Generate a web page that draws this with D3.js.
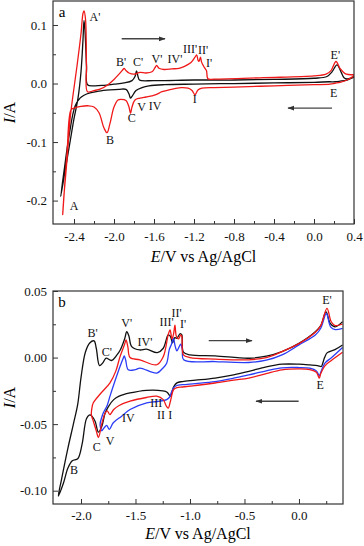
<!DOCTYPE html>
<html>
<head>
<meta charset="utf-8">
<script src="https://cdn.jsdelivr.net/npm/d3@7"></script>
<style>
  body { margin: 0; background: #fff; }
  svg { display: block; font-family: "Liberation Serif", "DejaVu Serif", serif; }
  .tick line { stroke: #333; }
  .tick text { font-family: "Liberation Serif", serif; font-size: 13px; fill: #111; }
  .peak { font-size: 12px; fill: #111; }
</style>
</head>
<body>
<script>
// panel a: [E (V), I (A)], each loop starts at +0.4 V, scans negative, then back
const aBlack = [
  [0.40, 0.011], [0.33, 0.006], [0.26, 0.004], [0.21, 0.003], [0.15, 0.003], [0.0, 0.002],
  [-0.4, 0.001], [-0.8, 0.0], [-1.2, -0.001], [-1.5, -0.002], [-1.65, -0.004], [-1.72, -0.007],
  [-1.78, -0.012], [-1.82, -0.022], [-1.835, -0.025], [-1.85, -0.018], [-1.88, -0.010],
  [-1.95, -0.010], [-2.04, -0.011], [-2.15, -0.013], [-2.24, -0.016], [-2.30, -0.020],
  [-2.34, -0.025], [-2.39, -0.039], [-2.45, -0.09], [-2.50, -0.15], [-2.533, -0.193],
  [-2.49, -0.15], [-2.44, -0.10], [-2.40, -0.06], [-2.36, -0.025], [-2.33, 0.02], [-2.31, 0.075],
  [-2.30, 0.108], [-2.29, 0.09], [-2.275, 0.03], [-2.265, -0.002], [-2.20, -0.004], [-2.10, -0.003],
  [-2.0, -0.001], [-1.90, 0.001], [-1.82, 0.005], [-1.79, 0.012], [-1.775, 0.0217], [-1.76, 0.012],
  [-1.745, 0.006], [-1.6, 0.005], [-1.2, 0.006], [-0.8, 0.006], [-0.4, 0.007], [0.0, 0.009],
  [0.13, 0.012], [0.18, 0.02], [0.23, 0.032], [0.27, 0.02], [0.30, 0.01], [0.33, 0.008], [0.40, 0.011]
];
const aRed = [
  [0.40, 0.013], [0.33, 0.006], [0.26, 0.002], [0.21, 0.0005], [0.16, -0.001], [0.0, -0.002],
  [-0.4, -0.004], [-0.8, -0.006], [-1.0, -0.007], [-1.12, -0.008], [-1.16, -0.011], [-1.19, -0.019],
  [-1.22, -0.012], [-1.26, -0.008], [-1.33, -0.007], [-1.45, -0.011], [-1.52, -0.014], [-1.58, -0.019],
  [-1.62, -0.021], [-1.68, -0.023], [-1.74, -0.025], [-1.79, -0.028], [-1.82, -0.040], [-1.835, -0.051],
  [-1.85, -0.040], [-1.88, -0.029], [-1.93, -0.027], [-1.96, -0.028], [-2.0, -0.040], [-2.04, -0.068],
  [-2.07, -0.084], [-2.10, -0.076], [-2.15, -0.050], [-2.20, -0.040], [-2.26, -0.038], [-2.33, -0.039],
  [-2.40, -0.042], [-2.43, -0.045], [-2.47, -0.12], [-2.513, -0.224],
  [-2.50, -0.19], [-2.47, -0.13], [-2.44, -0.062], [-2.41, -0.02], [-2.37, 0.03], [-2.33, 0.085],
  [-2.31, 0.12], [-2.30, 0.124], [-2.285, 0.11], [-2.275, 0.03], [-2.265, -0.014], [-2.20, -0.012],
  [-2.14, -0.0096], [-2.06, -0.002], [-2.0, 0.007], [-1.95, 0.016], [-1.91, 0.024], [-1.90, 0.026],
  [-1.88, 0.022], [-1.85, 0.018], [-1.80, 0.016], [-1.74, 0.019], [-1.68, 0.018], [-1.62, 0.02],
  [-1.59, 0.027], [-1.573, 0.031], [-1.55, 0.026], [-1.50, 0.024], [-1.42, 0.025], [-1.35, 0.026],
  [-1.30, 0.029], [-1.23, 0.036], [-1.19, 0.045], [-1.173, 0.049], [-1.16, 0.040], [-1.15, 0.038],
  [-1.135, 0.045], [-1.125, 0.037], [-1.105, 0.030], [-1.09, 0.026], [-1.075, 0.022], [-1.06, 0.008],
  [-1.0, 0.0075], [-0.5, 0.010], [0.0, 0.013], [0.12, 0.016], [0.17, 0.022], [0.22, 0.0376],
  [0.26, 0.026], [0.31, 0.017], [0.40, 0.015]
];

// panel b
const bBlack = [
  [0.40, 0.0095], [0.33, 0.006], [0.26, 0.0037], [0.235, 0.0], [0.215, -0.005], [0.205, -0.0067],
  [0.17, -0.006], [0.10, -0.0055], [0.0, -0.005], [-0.156, -0.005], [-0.30, -0.007], [-0.46, -0.0104],
  [-0.60, -0.013], [-0.77, -0.0154], [-0.95, -0.017], [-1.07, -0.018], [-1.12, -0.019], [-1.15, -0.022],
  [-1.18, -0.029], [-1.21, -0.026], [-1.25, -0.025], [-1.40, -0.0246], [-1.55, -0.0266], [-1.65, -0.029],
  [-1.70, -0.0316], [-1.75, -0.037], [-1.78, -0.042], [-1.81, -0.052], [-1.84, -0.056], [-1.87, -0.048],
  [-1.90, -0.044], [-1.92, -0.043], [-1.95, -0.046], [-1.99, -0.065], [-2.03, -0.076], [-2.08, -0.0776],
  [-2.12, -0.083], [-2.16, -0.094], [-2.208, -0.104],
  [-2.18, -0.092], [-2.12, -0.068], [-2.07, -0.05], [-2.03, -0.035], [-2.0, -0.015], [-1.96, 0.004],
  [-1.92, 0.011], [-1.88, 0.0125], [-1.86, 0.007], [-1.83, -0.006], [-1.80, -0.004], [-1.77, -0.0005],
  [-1.72, -0.0022], [-1.67, 0.002], [-1.64, 0.0057], [-1.60, 0.014], [-1.58, 0.0194], [-1.56, 0.016],
  [-1.535, 0.0082], [-1.46, 0.0057], [-1.40, 0.0063], [-1.30, 0.0037], [-1.245, 0.007], [-1.20, 0.017],
  [-1.18, 0.016], [-1.16, 0.011], [-1.14, 0.015], [-1.12, 0.0145], [-1.09, 0.018], [-1.075, 0.017],
  [-1.06, 0.004], [-1.0, 0.002], [-0.77, 0.0013], [-0.46, -0.0005], [-0.30, 0.001], [-0.156, 0.0045],
  [0.0, 0.0107], [0.15, 0.0194], [0.20, 0.024], [0.248, 0.0343], [0.287, 0.0257], [0.333, 0.0231], [0.40, 0.027]
];
const bRed = [
  [0.40, 0.004], [0.30, -0.002], [0.24, -0.006], [0.20, -0.012], [0.186, -0.0154], [0.16, -0.011],
  [0.10, -0.009], [0.0, -0.0085], [-0.156, -0.0092], [-0.30, -0.012], [-0.46, -0.0154], [-0.60, -0.017],
  [-0.77, -0.0191], [-0.95, -0.021], [-1.07, -0.0221], [-1.12, -0.0225], [-1.15, -0.024], [-1.18, -0.033],
  [-1.20, -0.038], [-1.22, -0.036], [-1.245, -0.0316], [-1.305, -0.029], [-1.40, -0.030], [-1.55, -0.0328],
  [-1.65, -0.036], [-1.70, -0.039], [-1.735, -0.0428], [-1.76, -0.040], [-1.78, -0.042], [-1.81, -0.050],
  [-1.84, -0.060], [-1.86, -0.055], [-1.89, -0.047], [-1.905, -0.043],
  [-1.90, -0.038], [-1.887, -0.034], [-1.82, -0.027], [-1.734, -0.019], [-1.68, -0.01], [-1.642, 0.0007],
  [-1.60, 0.010], [-1.587, 0.0132], [-1.57, 0.008], [-1.55, 0.0], [-1.46, -0.0017], [-1.305, -0.0054],
  [-1.245, 0.0007], [-1.20, 0.017], [-1.183, 0.0207], [-1.165, 0.014], [-1.15, 0.018], [-1.138, 0.0244],
  [-1.125, 0.016], [-1.105, 0.014], [-1.085, 0.017], [-1.075, 0.016], [-1.06, 0.002], [-1.0, 0.0],
  [-0.77, -0.0012], [-0.46, -0.0017], [-0.30, 0.0], [-0.156, 0.0045], [0.0, 0.0105], [0.15, 0.019],
  [0.20, 0.024], [0.257, 0.0369], [0.296, 0.0269], [0.333, 0.024], [0.40, 0.0252]
];
const bBlue = [
  [0.40, 0.0075], [0.30, 0.0], [0.24, -0.004], [0.20, -0.011], [0.188, -0.0137], [0.16, -0.010],
  [0.10, -0.008], [0.0, -0.0075], [-0.156, -0.0077], [-0.30, -0.010], [-0.46, -0.013], [-0.60, -0.0155],
  [-0.77, -0.018], [-0.95, -0.0195], [-1.07, -0.0204], [-1.12, -0.021], [-1.153, -0.0229], [-1.19, -0.030],
  [-1.214, -0.0316], [-1.30, -0.033], [-1.397, -0.034], [-1.55, -0.039], [-1.627, -0.044], [-1.704, -0.049],
  [-1.74, -0.054], [-1.764, -0.051], [-1.79, -0.053], [-1.81, -0.055], [-1.825, -0.05],
  [-1.81, -0.045], [-1.795, -0.0415], [-1.76, -0.036], [-1.734, -0.029], [-1.69, -0.018], [-1.642, -0.0067],
  [-1.61, 0.0], [-1.603, 0.0013], [-1.59, -0.002], [-1.566, -0.0092], [-1.50, -0.009], [-1.459, -0.0079],
  [-1.305, -0.0117], [-1.25, -0.008], [-1.214, -0.0042], [-1.19, 0.006], [-1.17, 0.010], [-1.153, 0.0145],
  [-1.135, 0.0082], [-1.12, 0.005], [-1.10, 0.008], [-1.085, 0.010], [-1.07, 0.006], [-1.058, -0.0017],
  [-0.77, -0.003], [-0.46, -0.0037], [-0.30, -0.002], [-0.156, 0.002], [0.0, 0.0095], [0.15, 0.0169],
  [0.20, 0.022], [0.251, 0.0331], [0.29, 0.0231], [0.333, 0.021], [0.40, 0.0219]
];

// ticks
const aXTicks = [-2.4, -2.0, -1.6, -1.2, -0.8, -0.4, 0.0, 0.4];
const aXLabels = ["-2.4", "-2.0", "-1.6", "-1.2", "-0.8", "-0.4", "0.0", "0.4"];
const aXMinor = [-2.2, -1.8, -1.4, -1.0, -0.6, -0.2, 0.2];
const aYTicks = [-0.2, -0.1, 0.0, 0.1];
const aYLabels = ["-0.2", "-0.1", "0.0", "0.1"];
const aYMinor = [-0.15, -0.05, 0.05];
const bXTicks = [-2.0, -1.5, -1.0, -0.5, 0.0];
const bXLabels = ["-2.0", "-1.5", "-1.0", "-0.5", "0.0"];
const bXMinor = [-1.75, -1.25, -0.75, -0.25, 0.25];
const bYTicks = [-0.10, -0.05, 0.00, 0.05];
const bYLabels = ["-0.10", "-0.05", "0.00", "0.05"];
const bYMinor = [-0.075, -0.025, 0.025];

// peak labels [text, E, I]
const aPeaks = [
  ["A'", -2.19, 0.1145], ["B'", -1.93, 0.037], ["C'", -1.76, 0.037], ["V'", -1.57, 0.0417],
  ["IV'", -1.39, 0.0417], ["III'", -1.24, 0.0595], ["II'", -1.11, 0.0565], ["I'", -1.05, 0.0345],
  ["E'", 0.213, 0.049], ["E", 0.197, -0.0154], ["I", -1.193, -0.0267], ["IV", -1.59, -0.0381],
  ["V", -1.723, -0.0403], ["C", -1.823, -0.0591], ["B", -2.04, -0.0962], ["A", -2.40, -0.210]
];
const bPeaks = [
  ["B'", -1.893, 0.0187], ["C'", -1.764, 0.0045], ["V'", -1.581, 0.0257], ["IV'", -1.413, 0.0119],
  ["III'", -1.214, 0.0269], ["II'", -1.122, 0.0331], ["I'", -1.064, 0.0255], ["E'", 0.257, 0.0436],
  ["E", 0.195, -0.0204], ["C", -1.856, -0.0669], ["V", -1.734, -0.0627], ["IV", -1.566, -0.0452],
  ["B", -2.064, -0.0846], ["III", -1.31, -0.0345], ["II", -1.265, -0.0435], ["I", -1.18, -0.0435]
];
// scan direction arrows [E from, E to, I]
const aArrows = [[-1.923, -1.49, 0.0764], [0.18, -0.26, -0.042]];
const bArrows = [[-0.828, -0.431, 0.0127], [-0.003, -0.394, -0.0328]];

const W = 364, H = 546;
const svg = d3.select("body").append("svg").attr("width", W).attr("height", H);

svg.append("defs").append("marker")
  .attr("id", "head")
  .attr("viewBox", "0 0 10 10")
  .attr("refX", 9).attr("refY", 5)
  .attr("markerWidth", 5).attr("markerHeight", 5)
  .attr("orient", "auto")
  .append("path").attr("d", "M0,1.5L10,5L0,8.5z").attr("fill", "#333");

function panel(o) {
  const x = d3.scaleLinear().domain(o.xDomain).range([o.left, o.right]);
  const y = d3.scaleLinear().domain(o.yDomain).range([o.bottom, o.top]);
  const g = svg.append("g");

  const line = d3.line()
    .x(d => x(d[0]))
    .y(d => y(d[1]))
    .curve(d3.curveCatmullRom.alpha(0.5));

  o.series.forEach(s => {
    g.append("path")
      .attr("d", line(s.data))
      .attr("fill", "none")
      .attr("stroke", s.color)
      .attr("stroke-width", 1.3)
      .attr("stroke-linejoin", "round");
  });

  const xAxis = g.append("g")
    .attr("transform", "translate(0," + o.bottom + ")")
    .call(d3.axisBottom(x).tickValues(o.xTicks).tickSize(-5).tickPadding(o.xPad)
      .tickFormat((d, i) => o.xLabels[i]));
  const xMinor = g.append("g")
    .attr("transform", "translate(0," + o.bottom + ")")
    .call(d3.axisBottom(x).tickValues(o.xMinor).tickSize(-3).tickFormat(""));
  const yAxis = g.append("g")
    .attr("transform", "translate(" + o.left + ",0)")
    .call(d3.axisLeft(y).tickValues(o.yTicks).tickSize(-5).tickPadding(6)
      .tickFormat((d, i) => o.yLabels[i]));
  const yMinor = g.append("g")
    .attr("transform", "translate(" + o.left + ",0)")
    .call(d3.axisLeft(y).tickValues(o.yMinor).tickSize(-3).tickFormat(""));
  [xAxis, xMinor, yAxis, yMinor].forEach(a => {
    a.select(".domain").remove();
    a.attr("font-family", null).attr("font-size", null);
  });

  g.append("rect")
    .attr("x", o.left).attr("y", o.top)
    .attr("width", o.right - o.left).attr("height", o.bottom - o.top)
    .attr("fill", "none").attr("stroke", "#333").attr("stroke-width", 1.2);

  g.selectAll(".peak")
    .data(o.peaks)
    .enter().append("text")
    .attr("class", "peak")
    .attr("x", d => x(d[1]))
    .attr("y", d => y(d[2]))
    .attr("text-anchor", "middle")
    .attr("dominant-baseline", "central")
    .text(d => d[0]);

  g.append("text")
    .attr("x", o.left + 9).attr("y", o.top + 11)
    .attr("text-anchor", "middle")
    .attr("dominant-baseline", "central")
    .style("font-size", "15px")
    .text(o.name);

  g.selectAll(".arrow")
    .data(o.arrows)
    .enter().append("line")
    .attr("class", "arrow")
    .attr("x1", d => x(d[0])).attr("x2", d => x(d[1]))
    .attr("y1", d => y(d[2])).attr("y2", d => y(d[2]))
    .attr("stroke", "#444").attr("stroke-width", 1.4)
    .attr("marker-end", "url(#head)");

  const xt = g.append("text")
    .attr("x", (o.left + o.right) / 2).attr("y", o.bottom + o.titleGap)
    .attr("text-anchor", "middle")
    .style("font-size", "16px");
  xt.append("tspan").style("font-style", "italic").text("E");
  xt.append("tspan").text("/V vs Ag/AgCl");

  const yt = g.append("text")
    .attr("transform", "translate(15," + ((o.top + o.bottom) / 2) + ") rotate(-90)")
    .attr("text-anchor", "middle")
    .style("font-size", "16px");
  yt.append("tspan").style("font-style", "italic").text("I");
  yt.append("tspan").text("/A");
}

panel({
  name: "a",
  xDomain: [-2.61, 0.40], yDomain: [-0.24, 0.141],
  left: 53, right: 354, top: 1, bottom: 224, xPad: 8, titleGap: 38,
  xTicks: aXTicks, xLabels: aXLabels, xMinor: aXMinor,
  yTicks: aYTicks, yLabels: aYLabels, yMinor: aYMinor,
  series: [{ data: aBlack, color: "#111" }, { data: aRed, color: "#f01818" }],
  peaks: aPeaks, arrows: aArrows
});

panel({
  name: "b",
  xDomain: [-2.257, 0.404], yDomain: [-0.11, 0.05],
  left: 53, right: 343, top: 291, bottom: 504, xPad: 7, titleGap: 35,
  xTicks: bXTicks, xLabels: bXLabels, xMinor: bXMinor,
  yTicks: bYTicks, yLabels: bYLabels, yMinor: bYMinor,
  series: [{ data: bBlack, color: "#111" }, { data: bBlue, color: "#2a3cf5" }, { data: bRed, color: "#f01818" }],
  peaks: bPeaks, arrows: bArrows
});
</script>
</body>
</html>
